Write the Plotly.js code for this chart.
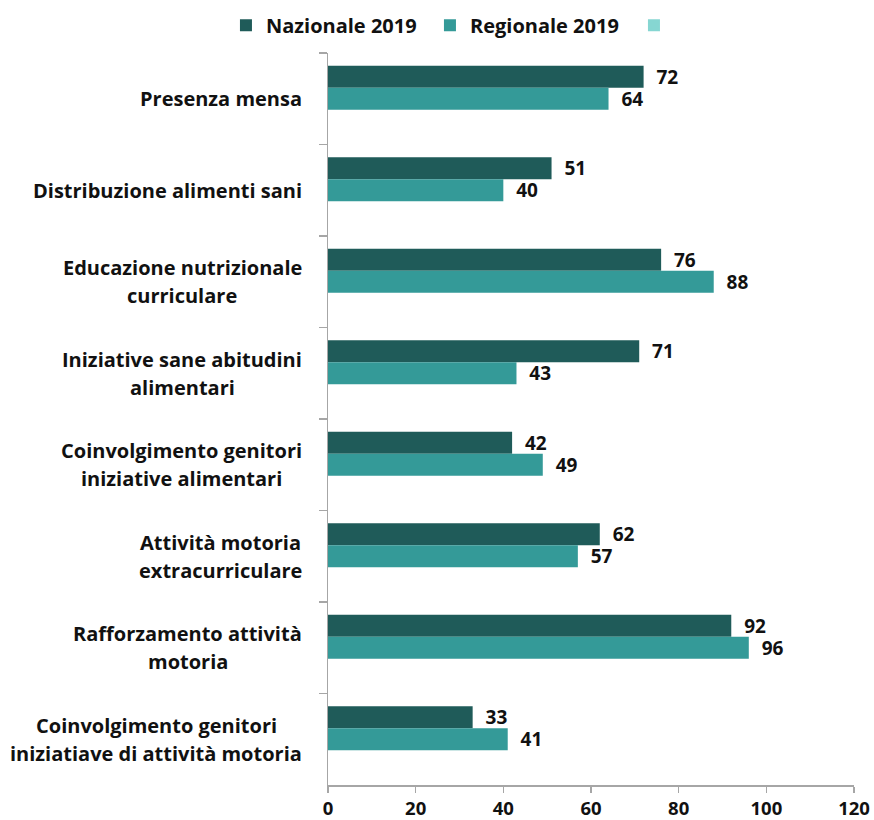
<!DOCTYPE html>
<html>
<head>
<meta charset="utf-8">
<script src="https://cdn.plot.ly/plotly-3.0.1.min.js"></script>
<style>html,body{margin:0;padding:0;background:#fff;}#chart{width:874px;height:820px;}</style>
</head>
<body>
<div id="chart"></div>
<script>
// Categories (top to bottom)
var categories = [
  "Presenza mensa",
  "Distribuzione alimenti sani",
  "Educazione nutrizionale curriculare",
  "Iniziative sane abitudini alimentari",
  "Coinvolgimento genitori iniziative alimentari",
  "Attività motoria extracurriculare",
  "Rafforzamento attività motoria",
  "Coinvolgimento genitori iniziatiave di attività motoria"
];
// Tick label lines as shown
var categoryLines = [
  ["Presenza mensa"],
  ["Distribuzione alimenti sani"],
  ["Educazione nutrizionale", "curriculare"],
  ["Iniziative sane abitudini", "alimentari"],
  ["Coinvolgimento genitori", "iniziative alimentari"],
  ["Attività motoria", "extracurriculare"],
  ["Rafforzamento attività", "motoria"],
  ["Coinvolgimento genitori", "iniziatiave di attività motoria"]
];
var seriesNames = ["Nazionale 2019", "Regionale 2019", " "];
var nazionale2019 = [72, 51, 76, 71, 42, 62, 92, 33];
var regionale2019 = [64, 40, 88, 43, 49, 57, 96, 41];
var thirdSeries = [null, null, null, null, null, null, null, null];
var xTicks = [0, 20, 40, 60, 80, 100, 120];

var FONT = "'Open Sans', sans-serif";
var LABEL_SIZE = 20;
var colors = ["#1f5b59", "#349a98", "#86d6d2"];

function barTrace(name, vals, color, withText) {
  var t = {
    type: "bar", orientation: "h", name: name,
    x: vals, y: categories,
    marker: {color: color, line: {width: 0}},
    cliponaxis: false,
    hoverinfo: "none"
  };
  if (withText) {
    t.text = vals.map(function(v){ return v == null ? "" : String(v); });
    t.texttemplate = "  %{text}";
    t.textposition = "outside";
    t.constraintext = "none";
    t.textfont = {family: FONT, size: 19, color: "#111", weight: "bold"};
  }
  return t;
}

var data = [
  barTrace(seriesNames[0], nazionale2019, colors[0], true),
  barTrace(seriesNames[1], regionale2019, colors[1], true),
  barTrace(seriesNames[2], thirdSeries, colors[2], false)
];

// measure text widths for centered multi-line labels
var cv = document.createElement("canvas").getContext("2d");
cv.font = "bold " + LABEL_SIZE + "px 'Open Sans'";
function tw(s) { return cv.measureText(s).width; }

var annotations = [];
var lineStep = 28;
var rightGap = 26;
categories.forEach(function(c, i) {
  var lines = categoryLines[i];
  var n = lines.length;
  var blockW = Math.max.apply(null, lines.map(tw));
  lines.forEach(function(line, j) {
    annotations.push({
      xref: "paper", yref: "y", x: 0, y: c,
      text: line, showarrow: false,
      xanchor: "center", yanchor: "middle", align: "center",
      xshift: -rightGap - blockW / 2,
      yshift: ((n - 1) / 2 - j) * lineStep,
      font: {family: FONT, size: LABEL_SIZE, color: "#111", weight: "bold"}
    });
  });
});

var layout = {
  width: 874, height: 820,
  margin: {l: 328, r: 20, t: 53, b: 35, autoexpand: false},
  paper_bgcolor: "#fff", plot_bgcolor: "#fff",
  barmode: "group", bargap: 0.28, bargroupgap: 0,
  showlegend: true,
  legend: {
    orientation: "h", xref: "paper", yref: "paper",
    x: -0.194, xanchor: "left", y: 1.038, yanchor: "middle",
    font: {family: FONT, size: 20, color: "#111", weight: "bold"},
    entrywidth: 159, entrywidthmode: "pixels",
    traceorder: "normal"
  },
  xaxis: {
    range: [0, 120], tickvals: xTicks, ticktext: xTicks.map(String),
    showgrid: false, zeroline: false,
    showline: true, linecolor: "#a6a6a6", linewidth: 1.5,
    ticks: "outside", ticklen: 6, tickcolor: "#a6a6a6", tickwidth: 1.5,
    tickfont: {family: FONT, size: 18.5, color: "#111", weight: "bold"},
    fixedrange: true
  },
  yaxis: {
    type: "category", autorange: "reversed",
    showgrid: false, zeroline: false,
    showline: true, linecolor: "#a6a6a6", linewidth: 1.5,
    ticks: "outside", ticklen: 8, tickcolor: "#a6a6a6", tickwidth: 1.5,
    tickson: "boundaries",
    showticklabels: false,
    fixedrange: true
  },
  annotations: annotations
};

Plotly.newPlot("chart", data, layout, {staticPlot: true, displayModeBar: false});
</script>
</body>
</html>
